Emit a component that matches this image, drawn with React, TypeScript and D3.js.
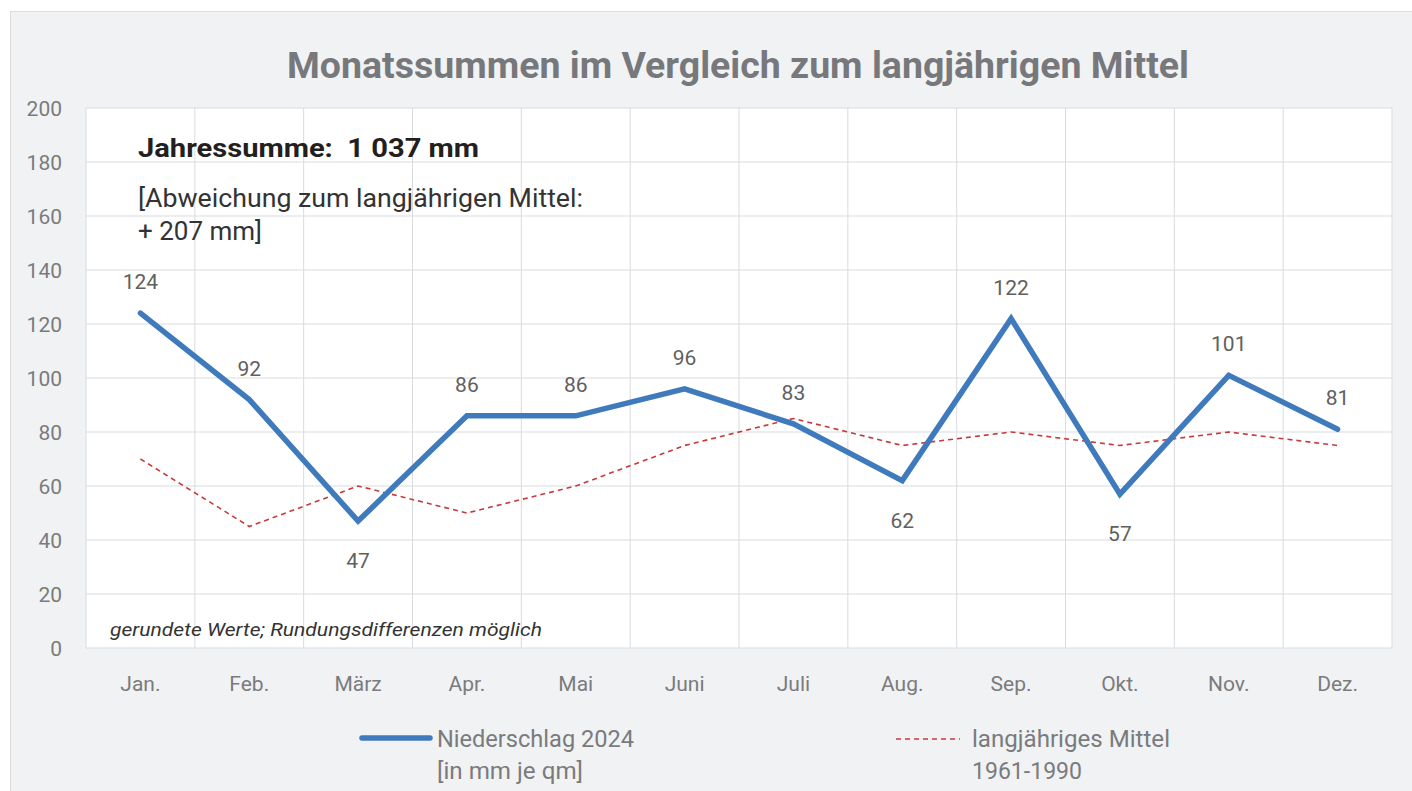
import React, { useEffect } from "react";
import { scaleBand, scaleLinear, line, range } from "d3";

// chart data
const months = ["Jan.", "Feb.", "März", "Apr.", "Mai", "Juni", "Juli", "Aug.", "Sep.", "Okt.", "Nov.", "Dez."];
const rain2024 = [124, 92, 47, 86, 86, 96, 83, 62, 122, 57, 101, 81];
const longTermMean = [70, 45, 60, 50, 60, 75, 85, 75, 80, 75, 80, 75];
const yTicks = [0, 20, 40, 60, 80, 100, 120, 140, 160, 180, 200];

const title = "Monatssummen im Vergleich zum langjährigen Mittel";
const FONT = "Roboto, 'DejaVu Sans', sans-serif";

const W = 1412;
const H = 791;
const plot = { left: 86, right: 1392, top: 108, bottom: 648 };

function App() {
  // the page comes with an 8px body margin, get rid of it
  useEffect(() => {
    document.body.style.margin = "0";
  }, []);

  const x = scaleBand<string>().domain(months).range([plot.left, plot.right]);
  const y = scaleLinear().domain([0, 200]).range([plot.bottom, plot.top]);
  const cx = (i: number) => (x(months[i]) as number) + x.bandwidth() / 2;

  // eslint-disable-next-line @typescript-eslint/no-explicit-any
  const lineGen: any = line<number>()
    .x((_, i) => cx(i))
    .y(d => y(d));

  // a label goes under the point when it's a dip between two higher months
  const below = (i: number) => {
    if (i === 0 || i === rain2024.length - 1) return false;
    const v = rain2024[i];
    return v < rain2024[i - 1] && v < rain2024[i + 1];
  };

  return (
    <svg width={W} height={H} style={{ display: "block", fontFamily: FONT }}>
      <rect x={0} y={0} width={W} height={H} fill="#ffffff" />
      {/* panel */}
      <rect x={10.5} y={11.5} width={W} height={H} fill="#f1f2f4" stroke="#dcdddf" strokeWidth={1} />

      <text x={738} y={78} textAnchor="middle" fontSize={37} fontWeight={700} fill="#77787b"
        textLength={902} lengthAdjust="spacingAndGlyphs">
        {title}
      </text>

      {/* plot area */}
      <rect x={plot.left} y={plot.top} width={plot.right - plot.left} height={plot.bottom - plot.top} fill="#ffffff" />

      {/* grid */}
      {yTicks.map(t => (
        <line key={"h" + t} x1={plot.left} x2={plot.right} y1={y(t)} y2={y(t)} stroke="#dadbdd" strokeWidth={1.2} />
      ))}
      {range(months.length + 1).map(i => {
        const xx = i < months.length ? (x(months[i]) as number) : plot.right;
        return <line key={"v" + i} x1={xx} x2={xx} y1={plot.top} y2={plot.bottom} stroke="#dadbdd" strokeWidth={1} />;
      })}

      {/* y axis labels */}
      {yTicks.map(t => (
        <text key={"yl" + t} x={62} y={y(t) + 7.5} textAnchor="end" fontSize={21} fill="#7a7b7d">{t}</text>
      ))}
      {/* x axis labels */}
      {months.map((m, i) => (
        <text key={m} x={cx(i)} y={691} textAnchor="middle" fontSize={21} fill="#7a7b7d">{m}</text>
      ))}

      {/* annotations */}
      <text x={138} y={157} fontSize={26} fontWeight={700} fill="#231f20" style={{ whiteSpace: "pre" }}
        textLength={341} lengthAdjust="spacingAndGlyphs">Jahressumme:  1 037 mm</text>
      <text x={138} y={207} fontSize={25} fill="#333333" textLength={445} lengthAdjust="spacingAndGlyphs">
        [Abweichung zum langjährigen Mittel:
      </text>
      <text x={138} y={240} fontSize={25} fill="#333333" textLength={124} lengthAdjust="spacingAndGlyphs">+ 207 mm]</text>
      <text x={110} y={636} fontSize={19} fontStyle="italic" fill="#333333" textLength={432} lengthAdjust="spacingAndGlyphs">
        gerundete Werte; Rundungsdifferenzen möglich
      </text>

      {/* series */}
      <path d={lineGen(longTermMean)} fill="none" stroke="#c8393b" strokeWidth={1.6} strokeDasharray="5 4" />
      <path d={lineGen(rain2024)} fill="none" stroke="#3f7abd" strokeWidth={5.5} strokeLinejoin="miter" strokeLinecap="round" />

      {/* data labels */}
      {rain2024.map((v, i) => (
        <text key={"dl" + i} x={cx(i)} y={below(i) ? y(v) + 47 : y(v) - 24} textAnchor="middle" fontSize={21} fill="#606060">{v}</text>
      ))}

      {/* legend */}
      <line x1={362} x2={430} y1={738} y2={738} stroke="#3f7abd" strokeWidth={5.5} strokeLinecap="round" />
      <text x={437} y={747} fontSize={23} fill="#7a7b7d" textLength={197} lengthAdjust="spacingAndGlyphs">Niederschlag 2024</text>
      <text x={437} y={779} fontSize={23} fill="#7a7b7d" textLength={146} lengthAdjust="spacingAndGlyphs">[in mm je qm]</text>
      <line x1={896} x2={960} y1={739} y2={739} stroke="#c8393b" strokeWidth={1.6} strokeDasharray="5 4" />
      <text x={972} y={747} fontSize={23} fill="#7a7b7d" textLength={198} lengthAdjust="spacingAndGlyphs">langjähriges Mittel</text>
      <text x={972} y={779} fontSize={23} fill="#7a7b7d" textLength={110} lengthAdjust="spacingAndGlyphs">1961-1990</text>
    </svg>
  );
}

export default App;
